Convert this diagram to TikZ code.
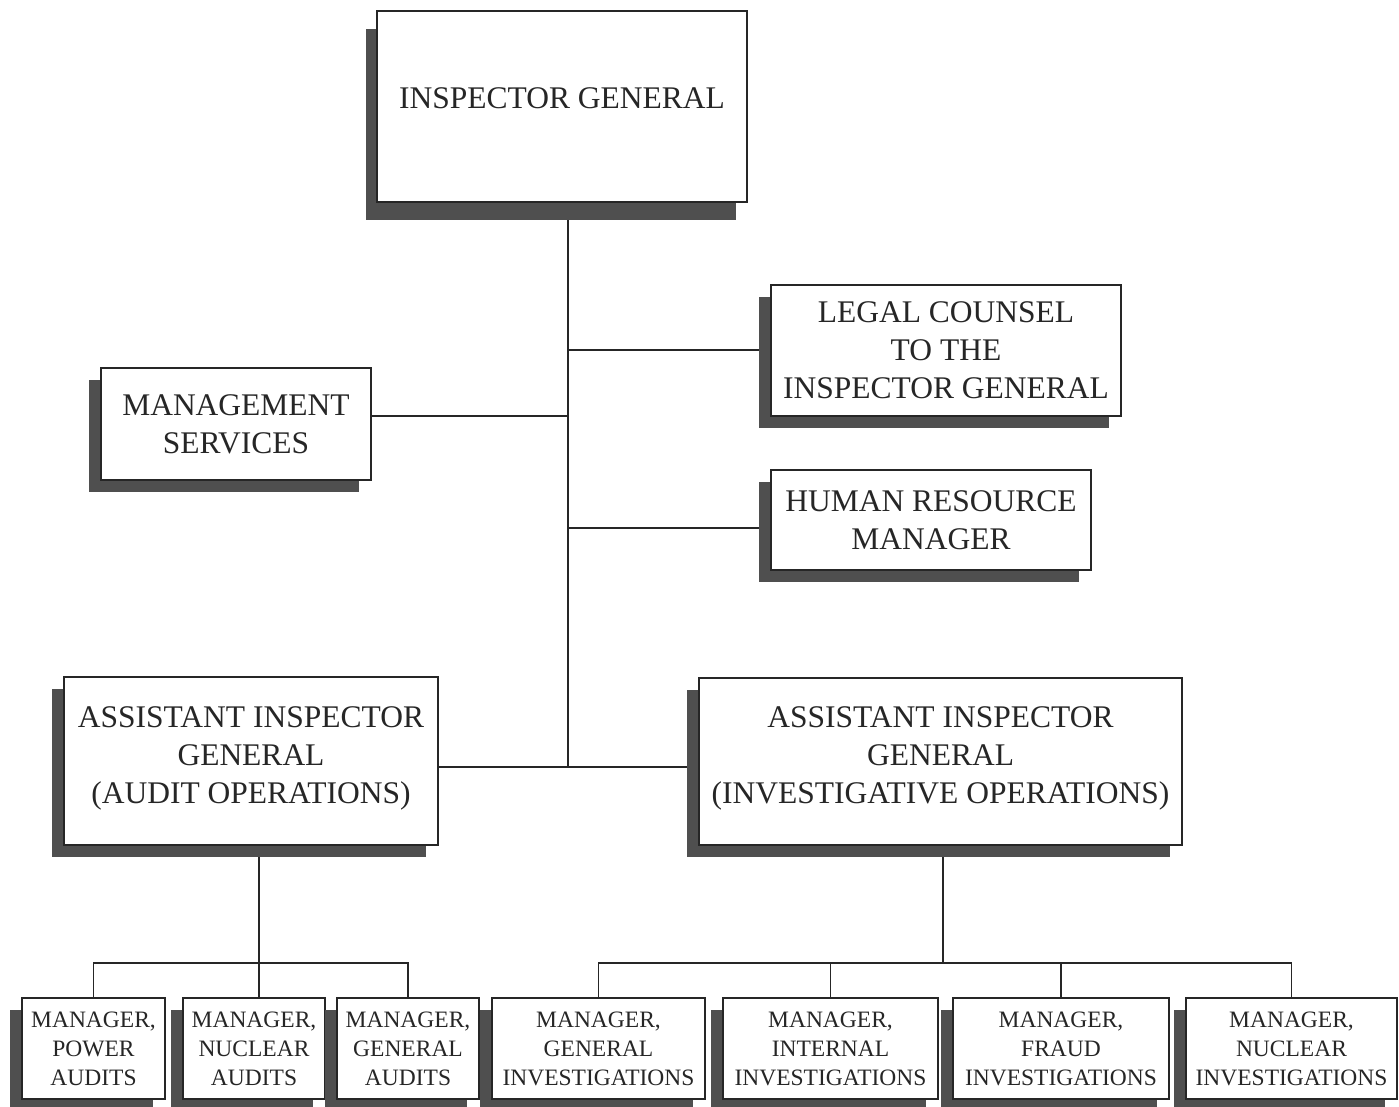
\documentclass[tikz,border=0pt]{standalone}
\usepackage{fontspec}
\setmainfont{Liberation Serif}
\usetikzlibrary{shadows,backgrounds}
\definecolor{shadowgray}{HTML}{4F4F4F}
\definecolor{inkgray}{HTML}{262626}
\tikzset{
  boxbase/.style={draw=inkgray, line width=1.1pt, fill=white, inner sep=0pt, align=center, text=inkgray},
  orgbox/.style={boxbase, general shadow={fill=shadowgray, shadow xshift=-12pt, shadow yshift=-12pt}},
  igbox/.style={boxbase, general shadow={fill=shadowgray, shadow xshift=-11pt, shadow yshift=-18pt}},
  bigtext/.style={font=\fontsize{31.5}{38}\selectfont},
  smalltext/.style={font=\fontsize{23.5}{29}\selectfont},
  link/.style={draw=inkgray, line width=1.2pt},
}
\begin{document}
\begin{tikzpicture}[x=1pt,y=-1pt]
\useasboundingbox (0,0) rectangle (1399,1107);
% upper boxes
\node[igbox,bigtext,minimum width=370pt,minimum height=191pt] (ig) at (562,106.5) {INSPECTOR GENERAL\\[-22pt]};
\node[orgbox,bigtext,minimum width=350pt,minimum height=131pt] (legal) at (946,350.5) {LEGAL COUNSEL\\TO THE\\INSPECTOR GENERAL};
\node[orgbox,bigtext,minimum width=270pt,minimum height=112pt] (mgmt) at (236,424) {MANAGEMENT\\SERVICES};
\node[orgbox,bigtext,minimum width=320pt,minimum height=100pt] (hr) at (931,520) {HUMAN RESOURCE\\MANAGER};
\node[orgbox,bigtext,minimum width=374pt,minimum height=168pt] (aiga) at (251,761) {ASSISTANT INSPECTOR\\GENERAL\\(AUDIT OPERATIONS)\\[-26pt]};
\node[orgbox,bigtext,minimum width=483pt,minimum height=167pt] (aigi) at (940.5,761.5) {ASSISTANT INSPECTOR\\GENERAL\\(INVESTIGATIVE OPERATIONS)\\[-26pt]};
% bottom boxes
\node[orgbox,smalltext,minimum width=143pt,minimum height=101pt] (pa) at (93.5,1048.5) {MANAGER,\\POWER\\AUDITS};
\node[orgbox,smalltext,minimum width=142pt,minimum height=101pt] (na) at (254,1048.5) {MANAGER,\\NUCLEAR\\AUDITS};
\node[orgbox,smalltext,minimum width=142pt,minimum height=101pt] (ga) at (408,1048.5) {MANAGER,\\GENERAL\\AUDITS};
\node[orgbox,smalltext,minimum width=213pt,minimum height=101pt] (gi) at (598.5,1048.5) {MANAGER,\\GENERAL\\INVESTIGATIONS};
\node[orgbox,smalltext,minimum width=215pt,minimum height=101pt] (ii) at (830.5,1048.5) {MANAGER,\\INTERNAL\\INVESTIGATIONS};
\node[orgbox,smalltext,minimum width=216pt,minimum height=101pt] (fi) at (1061,1048.5) {MANAGER,\\FRAUD\\INVESTIGATIONS};
\node[orgbox,smalltext,minimum width=211pt,minimum height=101pt] (ni) at (1291.5,1048.5) {MANAGER,\\NUCLEAR\\INVESTIGATIONS};
% junctions
\coordinate (jl) at (568,350);
\coordinate (jm) at (568,416);
\coordinate (jh) at (568,528);
\coordinate (ja) at (568,767);
\coordinate (ba) at (259,963);
\coordinate (bi) at (943,963);
\begin{scope}[on background layer]
\draw[link] (ig.south -| ja) -- (ja);
\draw[link] (jl) -- (legal.west |- jl);
\draw[link] (mgmt.east |- jm) -- (jm);
\draw[link] (jh) -- (hr.west |- jh);
\draw[link] (aiga.east |- ja) -- (aigi.west |- ja);
\draw[link] (aiga.south -| ba) -- (ba);
\draw[link] (pa.north) -- (pa.north |- ba) -- (ga.north |- ba) -- (ga.north);
\draw[link] (ba) -- (na.north -| ba);
\draw[link] (aigi.south -| bi) -- (bi);
\draw[link] (gi.north) -- (gi.north |- bi) -- (ni.north |- bi) -- (ni.north);
\draw[link] (ii.north |- bi) -- (ii.north);
\draw[link] (fi.north |- bi) -- (fi.north);
\end{scope}
\end{tikzpicture}
\end{document}
